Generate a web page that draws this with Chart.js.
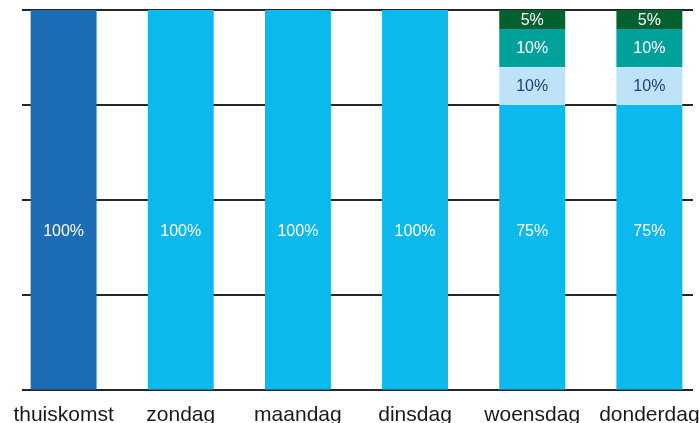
<!DOCTYPE html>
<html>
<head>
<meta charset="utf-8">
<script src="https://cdn.jsdelivr.net/npm/chart.js@4"></script>
<style>
  html, body { margin: 0; padding: 0; overflow: hidden; background: #fff; }
  #wrap { width: 699px; height: 423px; overflow: hidden; position: relative; }
  canvas { position: absolute; left: 0; top: 0; }
</style>
</head>
<body>
<div id="wrap"><canvas id="chart" width="713" height="441"></canvas></div>
<script>
const categories = ["thuiskomst", "zondag", "maandag", "dinsdag", "woensdag", "donderdag"];
const baseValues = [100, 100, 100, 100, 75, 75];
const lightValues = [0, 0, 0, 0, 10, 10];
const tealValues = [0, 0, 0, 0, 10, 10];
const greenValues = [0, 0, 0, 0, 5, 5];
const yTicks = [0, 25, 50, 75, 100];

const baseColors = ["#1c6db5", "#0cb9ed", "#0cb9ed", "#0cb9ed", "#0cb9ed", "#0cb9ed"];

// grid lines only span part of the width, so draw them by hand from the y scale
const gridPlugin = {
    id: "grid",
    beforeDatasetsDraw(chart) {
        const ctx = chart.ctx;
        const y = chart.scales.y;
        ctx.save();
        ctx.strokeStyle = "#262626";
        ctx.lineWidth = 2;
        yTicks.forEach(t => {
            const py = Math.round(y.getPixelForValue(t));
            ctx.beginPath();
            ctx.moveTo(22, py);
            ctx.lineTo(693, py);
            ctx.stroke();
        });
        ctx.restore();
    }
};

// the base labels all sit at the same height, the rest are centred in their segment
const labelPlugin = {
    id: "barLabels",
    afterDatasetsDraw(chart) {
        const ctx = chart.ctx;
        const y = chart.scales.y;
        ctx.save();
        ctx.font = "16px 'Liberation Sans', Arial, sans-serif";
        ctx.textAlign = "center";
        ctx.textBaseline = "middle";
        chart.data.datasets.forEach((ds, i) => {
            chart.getDatasetMeta(i).data.forEach((bar, j) => {
                const v = ds.data[j];
                if (!v) return;
                const py = i === 0 ? y.getPixelForValue(42) : (bar.y + bar.base) / 2;
                ctx.fillStyle = ds.labelColor;
                ctx.fillText(v + "%", bar.x, py + 1);
            });
        });
        ctx.restore();
    }
};

new Chart(document.getElementById("chart"), {
    type: "bar",
    data: {
        labels: categories,
        datasets: [
            { data: baseValues, backgroundColor: baseColors, labelColor: "#ffffff" },
            { data: lightValues, backgroundColor: "#bee3f9", labelColor: "#2b3a78" },
            { data: tealValues, backgroundColor: "#00a19b", labelColor: "#ffffff" },
            { data: greenValues, backgroundColor: "#04612f", labelColor: "#ffffff" }
        ]
    },
    options: {
        responsive: false,
        animation: false,
        layout: { padding: { left: 5, right: 5, top: 10, bottom: 0 } },
        plugins: { legend: { display: false }, tooltip: { enabled: false } },
        datasets: { bar: { barPercentage: 0.563, categoryPercentage: 1, borderWidth: 0 } },
        scales: {
            x: {
                stacked: true,
                grid: { display: false, drawTicks: false },
                border: { display: false },
                ticks: {
                    color: "#1a1a1a",
                    padding: 13,
                    maxRotation: 0,
                    autoSkip: false,
                    font: { family: "'Liberation Sans', Arial, sans-serif", size: 21 }
                }
            },
            y: {
                stacked: true,
                display: false,
                min: 0,
                max: 100,
                afterBuildTicks: axis => { axis.ticks = yTicks.map(v => ({ value: v })); }
            }
        }
    },
    plugins: [gridPlugin, labelPlugin]
});
</script>
</body>
</html>
